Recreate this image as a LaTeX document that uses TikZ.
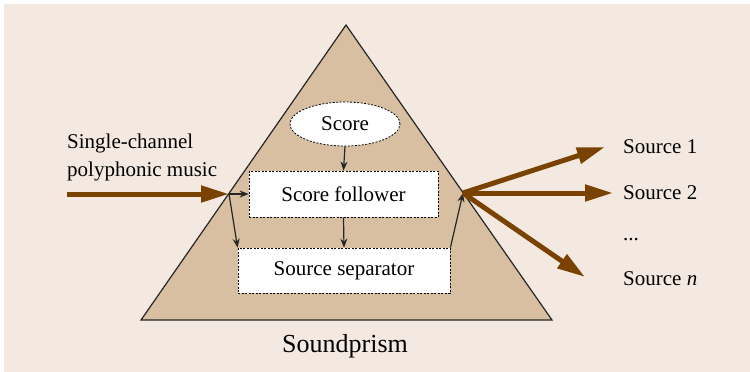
\documentclass[tikz,border=0pt]{standalone}
\usepackage{fontspec}
\setmainfont{Liberation Serif}
\usetikzlibrary{arrows.meta,shapes.geometric}
\definecolor{bgc}{RGB}{243,233,224}
\definecolor{prism}{RGB}{216,191,161}
\definecolor{brownarr}{RGB}{122,66,0}
\begin{document}
\begin{tikzpicture}[x=1pt,y=-1pt,
  txt/.style={font=\fontsize{21}{25}\selectfont, inner sep=0pt},
  blk/.style={draw=black, dash pattern=on 2pt off 1.5pt, line width=0.8pt, fill=white},
  thin/.style={-{Stealth[length=9pt,width=7pt]}, line width=1.2pt, black!85},
  big/.style={-{Triangle[length=28pt,width=16pt]}, line width=5pt, brownarr}]
\useasboundingbox (0,0) rectangle (750,372);
\fill[bgc] (4,4) rectangle (750,372);
\filldraw[fill=prism, draw=black!85, line width=1.2pt, line join=miter] (346,25) -- (552,320) -- (141,320) -- cycle;
\node[blk, ellipse, minimum width=110pt, minimum height=44pt, inner sep=0pt, txt] (score) at (345,124) {Score};
\node[blk, minimum width=189pt, minimum height=46pt, inner sep=0pt, txt] (follower) at (343.5,194) {Score follower};
\node[blk, minimum width=212pt, minimum height=45pt, inner sep=0pt, txt] (sep) at (344,270.5) {Source separator};
\coordinate (in) at (67,194);
\coordinate (jL) at (229,194);
\coordinate (jR) at (463,193);
\coordinate (o1) at (605,147);
\coordinate (o2) at (613,193);
\coordinate (o3) at (585,277);
\draw[big] (in) -- (jL);
\draw[thin] (jL) -- (follower.west);
\draw[thin] (jL) -- (sep.north west);
\draw[thin] (score.south) -- (follower.north);
\draw[thin] (follower.south) -- (sep.north);
\draw[thin] (sep.north east) -- (jR);
\draw[big] (jR) -- (o1);
\draw[big] (jR) -- (o2);
\draw[big] (jR) -- (o3);
\node[txt, anchor=west] (l1) at (67,143) {Single-channel};
\node[txt, anchor=west] (l2) at (67,171) {polyphonic music};
\node[txt, anchor=west] (s1) at (623,147) {Source 1};
\node[txt, anchor=west] (s2) at (623,193) {Source 2};
\node[txt, anchor=west] (s3) at (623,240) {...};
\node[txt, anchor=west] (s4) at (623,279) {Source \textit{n}};
\node[font=\fontsize{26}{30}\selectfont, inner sep=0pt] (title) at (345,346) {Soundprism};
\end{tikzpicture}
\end{document}
